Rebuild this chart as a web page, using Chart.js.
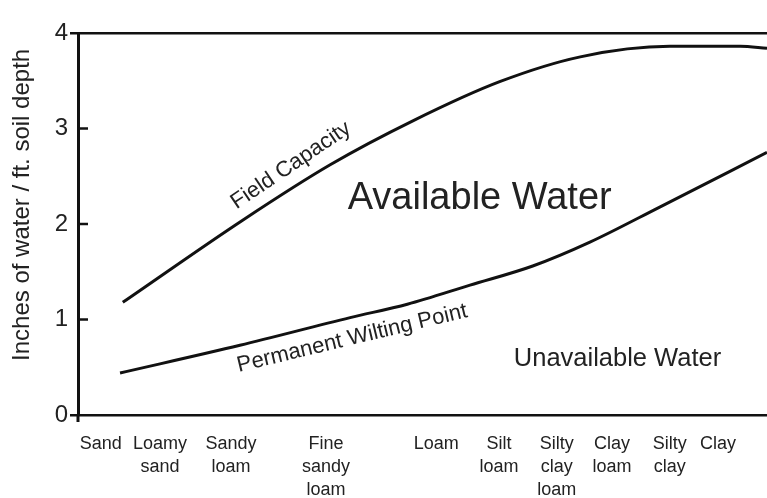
<!DOCTYPE html>
<html>
<head>
<meta charset="utf-8">
<script src="https://cdn.jsdelivr.net/npm/chart.js@4.4.1/dist/chart.umd.min.js"></script>
<style>
  html, body { margin: 0; padding: 0; background: #fff; }
  #wrap { width: 767px; height: 498px; position: relative; }
</style>
</head>
<body>
<div id="wrap"><canvas id="chart"></canvas></div>
<script>
// soil texture classes, placed along a coarse -> fine texture scale (0-100)
const textures = ['Sand', 'Loamy sand', 'Sandy loam', 'Fine sandy loam', 'Loam', 'Silt loam', 'Silty clay loam', 'Clay loam', 'Silty clay', 'Clay'];
const texturePos = [3.3, 11.9, 22.2, 36.0, 52.0, 61.1, 69.5, 77.5, 85.9, 92.9];

// inches of water / ft. soil depth
const fieldCapX = [6.5, 23.9, 36.6, 48.6, 61.2, 72.9, 85.9, 96.1, 100];
const fieldCapY = [1.18, 2.04, 2.62, 3.08, 3.49, 3.75, 3.86, 3.86, 3.84];
const wiltX = [6.1, 23.5, 39.5, 47.8, 56.9, 66.0, 74.3, 84.5, 100];
const wiltY = [0.44, 0.73, 1.02, 1.16, 1.36, 1.56, 1.81, 2.18, 2.75];

const yTicks = [0, 1, 2, 3, 4];

// text written on the plot (data coords, angle in degrees)
const notes = [
    {text: 'Field Capacity', x: 31.4, y: 2.56, angle: -34, size: 22},
    {text: 'Permanent Wilting Point', x: 40.0, y: 0.74, angle: -13.5, size: 22},
    {text: 'Available Water', x: 58.3, y: 2.16, angle: 0, size: 38},
    {text: 'Unavailable Water', x: 78.3, y: 0.51, angle: 0, size: 25.5}
];
const yTitle = 'Inches of water / ft. soil depth';

const FONT = "'Liberation Sans', Arial, Helvetica, sans-serif";
const INK = '#111';

function pts(xs, ys){
    return xs.map(function(x, i){ return {x: x, y: ys[i]}; });
}

const decor = {
    id: 'decor',
    afterDraw(chart){
        const ctx = chart.ctx;
        const xs = chart.scales.x, ys = chart.scales.y;
        const area = chart.chartArea;
        ctx.save();
        ctx.strokeStyle = INK;
        ctx.lineWidth = 2.5;
        // small inward ticks on the value axis
        [1, 2, 3].forEach(function(v){
            const py = ys.getPixelForValue(v);
            ctx.beginPath();
            ctx.moveTo(area.left, py);
            ctx.lineTo(area.left + 10, py);
            ctx.stroke();
        });
        // axis runs a little past the baseline
        ctx.lineWidth = 3;
        ctx.beginPath();
        ctx.moveTo(area.left, area.bottom);
        ctx.lineTo(area.left, area.bottom + 7);
        ctx.stroke();

        ctx.fillStyle = '#222';
        ctx.textAlign = 'center';
        ctx.textBaseline = 'alphabetic';
        notes.forEach(function(n){
            ctx.save();
            ctx.translate(xs.getPixelForValue(n.x), ys.getPixelForValue(n.y));
            ctx.rotate(n.angle * Math.PI / 180);
            ctx.font = n.size + 'px ' + FONT;
            ctx.fillText(n.text, 0, 0);
            ctx.restore();
        });

        // value axis title
        ctx.save();
        ctx.translate(22, ys.getPixelForValue(2.2));
        ctx.rotate(-Math.PI / 2);
        ctx.font = '24px ' + FONT;
        ctx.textBaseline = 'middle';
        ctx.fillText(yTitle, 0, 0);
        ctx.restore();
        ctx.restore();
    }
};

const ctx = document.getElementById('chart').getContext('2d');
const myChart = new Chart(ctx, {
    type: 'line',
    data: {
        datasets: [{
            label: 'Field Capacity',
            data: pts(fieldCapX, fieldCapY),
            borderColor: INK,
            borderWidth: 3,
            pointRadius: 0,
            cubicInterpolationMode: 'monotone'
        }, {
            label: 'Permanent Wilting Point',
            data: pts(wiltX, wiltY),
            borderColor: INK,
            borderWidth: 3,
            pointRadius: 0,
            cubicInterpolationMode: 'monotone'
        }]
    },
    options: {
        responsive: true,
        maintainAspectRatio: false,
        animation: false,
        layout: {padding: {top: 33, right: 0, left: 0, bottom: 0}},
        plugins: {legend: {display: false}, tooltip: {enabled: false}},
        scales: {
            x: {
                type: 'linear',
                min: 0,
                max: 100,
                grid: {display: false, drawTicks: false},
                border: {display: false},
                afterBuildTicks: function(axis){
                    axis.ticks = texturePos.map(function(v){ return {value: v}; });
                },
                afterFit: function(axis){ axis.height = 83; },
                ticks: {
                    autoSkip: false,
                    maxRotation: 0,
                    padding: 17,
                    color: '#222',
                    font: {family: FONT, size: 18, lineHeight: 1.3},
                    callback: function(val, i){ return textures[i].split(' '); }
                }
            },
            y: {
                min: 0,
                max: 4,
                afterBuildTicks: function(axis){
                    axis.ticks = yTicks.map(function(v){ return {value: v}; });
                },
                afterFit: function(axis){ axis.width = 78; },
                grid: {
                    lineWidth: 2.5,
                    tickLength: 8,
                    color: function(c){ return (c.tick && (c.tick.value === 0 || c.tick.value === 4)) ? INK : 'rgba(0,0,0,0)'; }
                },
                border: {display: true, color: INK, width: 3},
                ticks: {
                    padding: 2,
                    color: '#222',
                    font: {family: FONT, size: 24}
                }
            }
        }
    },
    plugins: [decor]
});
</script>
</body>
</html>
